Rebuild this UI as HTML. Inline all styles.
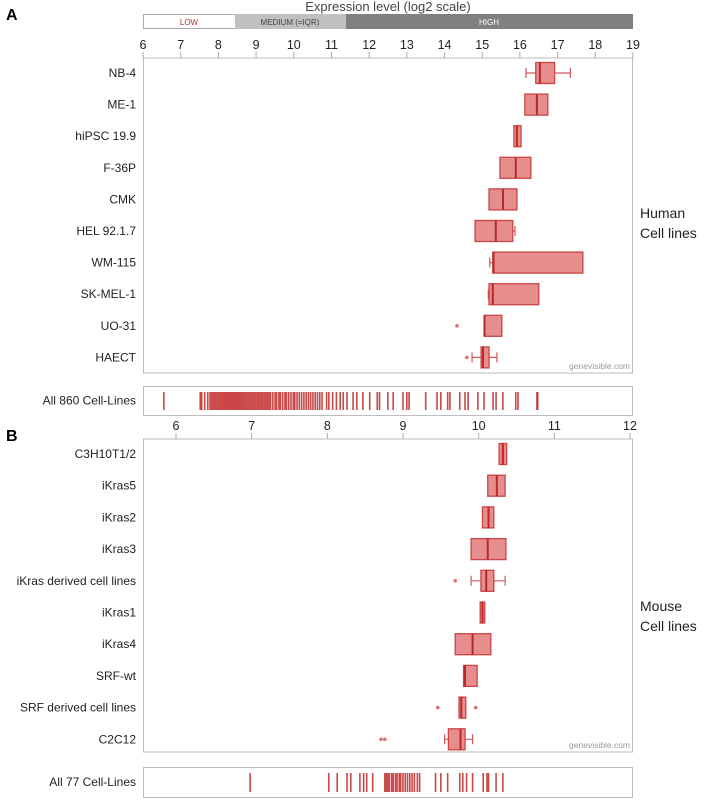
<!DOCTYPE html>
<html><head><meta charset="utf-8">
<style>
body{margin:0;background:#fff;font-family:"Liberation Sans",Arial,sans-serif;}
svg text{font-family:"Liberation Sans",Arial,sans-serif;}
</style></head>
<body>
<svg id="chart" width="708" height="801" viewBox="0 0 708 801" xmlns="http://www.w3.org/2000/svg">
<text x="6" y="20" font-size="16" font-weight="bold">A</text>
<text x="6" y="441" font-size="16" font-weight="bold">B</text>
<text x="388" y="11" font-size="13" fill="#444" text-anchor="middle">Expression level (log2 scale)</text>
<g>
<rect x="143.5" y="14.5" width="92" height="14" fill="#fff" stroke="#aaa"/>
<rect x="235" y="14" width="111" height="15" fill="#c0c0c0"/>
<rect x="346" y="14" width="287" height="15" fill="#808080"/>
<text x="189" y="25" font-size="8" fill="#b03030" text-anchor="middle">LOW</text>
<text x="290" y="25" font-size="8" fill="#444" text-anchor="middle">MEDIUM (=IQR)</text>
<text x="489" y="25" font-size="8" fill="#fff" text-anchor="middle">HIGH</text>
</g>
<text x="640" y="218" font-size="14" fill="#222">Human</text>
<text x="640" y="238" font-size="14" fill="#222">Cell lines</text>
<text x="640" y="611" font-size="14" fill="#222">Mouse</text>
<text x="640" y="631" font-size="14" fill="#222">Cell lines</text>
<g id="layer"></g>
</svg>
<script>
const ticksA = [6,7,8,9,10,11,12,13,14,15,16,17,18,19];
const labelsA = ["NB-4","ME-1","hiPSC 19.9","F-36P","CMK","HEL 92.1.7","WM-115","SK-MEL-1","UO-31","HAECT"];
const q1A = [16.42,16.13,15.84,15.47,15.18,14.81,15.28,15.18,15.05,14.97];
const medA = [16.53,16.45,15.92,15.89,15.55,15.36,15.3,15.28,15.06,15.02];
const q3A = [16.92,16.74,16.03,16.29,15.92,15.81,17.67,16.5,15.52,15.18];
const wminA = [16.16,null,null,null,null,null,15.2,15.16,null,14.73];
const wmaxA = [17.34,null,null,null,null,15.87,null,null,null,15.39];
const outA = [[],[],[],[],[],[],[],[],[14.33],[14.59]];

const ticksB = [6,7,8,9,10,11,12];
const labelsB = ["C3H10T1/2","iKras5","iKras2","iKras3","iKras derived cell lines","iKras1","iKras4","SRF-wt","SRF derived cell lines","C2C12"];
const q1B = [10.27,10.12,10.05,9.9,10.03,10.02,9.69,9.8,9.74,9.6];
const medB = [10.32,10.24,10.13,10.12,10.1,10.05,9.92,9.82,9.77,9.76];
const q3B = [10.37,10.35,10.2,10.36,10.2,10.08,10.16,9.98,9.83,9.82];
const wminB = [null,null,null,null,9.9,null,null,null,null,9.55];
const wmaxB = [null,null,null,null,10.35,null,null,null,null,9.92];
const outB = [[],[],[],[],[9.69],[],[],[],[9.46,9.96],[8.71,8.76]];

const stripA = [5.84,6.32,6.34,6.38,6.42,
6.45,6.47,6.49,6.51,6.53,6.55,6.57,6.59,6.61,6.63,6.65,6.67,6.69,6.71,6.73,6.75,6.77,6.79,6.81,6.83,6.85,6.87,6.89,6.91,6.93,6.95,6.97,6.99,7.01,7.03,7.05,7.07,7.09,7.11,7.13,7.15,7.17,7.19,7.21,7.23,7.25,
7.28,7.31,7.33,7.36,7.38,7.41,7.44,7.46,7.49,7.52,7.55,7.57,7.6,7.63,7.66,7.69,7.72,7.75,7.78,7.81,7.84,7.87,7.9,7.93,
7.99,8.02,8.07,8.12,8.17,8.21,8.26,8.34,8.39,8.47,8.56,8.66,8.69,8.8,8.87,9.0,9.05,9.08,9.3,9.45,9.5,9.59,9.62,9.75,9.82,9.86,9.99,10.07,10.19,10.23,10.32,10.49,10.52,10.77,10.78];
const stripB = [6.98,8.02,8.13,8.26,8.31,8.43,8.48,8.52,8.6,
8.76,8.78,8.8,8.82,8.85,8.87,8.9,8.92,8.95,8.97,9.0,9.03,9.06,9.09,9.12,9.15,9.19,9.22,
9.43,9.5,9.59,9.75,9.79,9.84,9.92,10.06,10.11,10.13,10.23,10.32];

const NS="http://www.w3.org/2000/svg";
const layer=document.getElementById('layer');
function mk(tag,attrs,txt){const e=document.createElementNS(NS,tag);for(const k in attrs)e.setAttribute(k,attrs[k]);if(txt!==undefined)e.textContent=txt;layer.appendChild(e);return e;}
const xA=v=>143+(v-6)*(490/13);
const xB=v=>176+(v-6)*(454/6);
const X0=143,X1=633;

function axis(ticks,xf,labelY,lineY,name){
  const l=mk('line',{x1:X0,x2:X1,y1:lineY,y2:lineY,stroke:'#aaa'});
  
  
  ticks.forEach(t=>{
    const tk=mk('line',{x1:xf(t),x2:xf(t),y1:lineY-6,y2:lineY,stroke:'#aaa'});
    
    
    const tx=mk('text',{x:xf(t),y:labelY,'font-size':12.5,'text-anchor':'middle',fill:'#222'},String(t));
    
    
  });
}
function panel(top,bottom,labels,q1,med,q3,wmin,wmax,outs,xf,rowY0,step,name){
  const fr=mk('rect',{x:X0+0.5,y:top,width:X1-X0-1,height:bottom-top,fill:'none',stroke:'#bbb'});
  
  
  labels.forEach((lab,i)=>{
    const cy=rowY0+i*step;
    const t=mk('text',{x:136,y:cy+4,'font-size':12,'text-anchor':'end',fill:'#222'},lab);
    
    
    const h=10.5;
    if(wmin[i]!=null){
      const w=mk('path',{d:`M${xf(wmin[i])},${cy}H${xf(q1[i])}M${xf(wmin[i])},${cy-5}V${cy+5}`,stroke:'#d05a5a','stroke-width':1.2,fill:'none'});
      
      
    }
    if(wmax[i]!=null){
      const w=mk('path',{d:`M${xf(q3[i])},${cy}H${xf(wmax[i])}M${xf(wmax[i])},${cy-5}V${cy+5}`,stroke:'#d05a5a','stroke-width':1.2,fill:'none'});
      
      
    }
    const b=mk('rect',{x:xf(q1[i]),y:cy-h,width:Math.max(2,xf(q3[i])-xf(q1[i])),height:2*h,fill:'#e68e8e',stroke:'#cc4444','stroke-width':1.3});
    
    
    const m=mk('line',{x1:xf(med[i]),x2:xf(med[i]),y1:cy-h,y2:cy+h,stroke:'#b82828','stroke-width':2});
    
    
    outs[i].forEach(o=>{
      const c=mk('circle',{cx:xf(o),cy:cy,r:1.8,fill:'#e07070'});
      
      
    });
  });
  const g=mk('text',{x:X1-3,y:bottom-4,'font-size':8.5,'text-anchor':'end',fill:'#999'},'genevisible.com');
  
  
}
function strip(y0,y1,vals,label,xf){
  const fr=mk('rect',{x:X0+0.5,y:y0+0.5,width:X1-X0-1,height:y1-y0,fill:'#fff',stroke:'#bbb'});
  
  
  const t=mk('text',{x:136,y:(y0+y1)/2+4,'font-size':12,'text-anchor':'end',fill:'#222'},label);
  
  
  vals.forEach(v=>{
    const l=mk('line',{x1:xf(v),x2:xf(v),y1:y0+6,y2:y1-5,stroke:'#c02828','stroke-width':1.6,'stroke-opacity':0.85});
    
    
  });
}
axis(ticksA,xA,49,58,'axis-a');
panel(58,373,labelsA,q1A,medA,q3A,wminA,wmaxA,outA,xA,73,31.6,'panel-a');
strip(386,415,stripA,'All 860 Cell-Lines',xB);
axis(ticksB,xB,430,439,'axis-b');
panel(439,752,labelsB,q1B,medB,q3B,wminB,wmaxB,outB,xB,454,31.7,'panel-b');
strip(767,797,stripB,'All 77 Cell-Lines',xB);
</script>
</body></html>
